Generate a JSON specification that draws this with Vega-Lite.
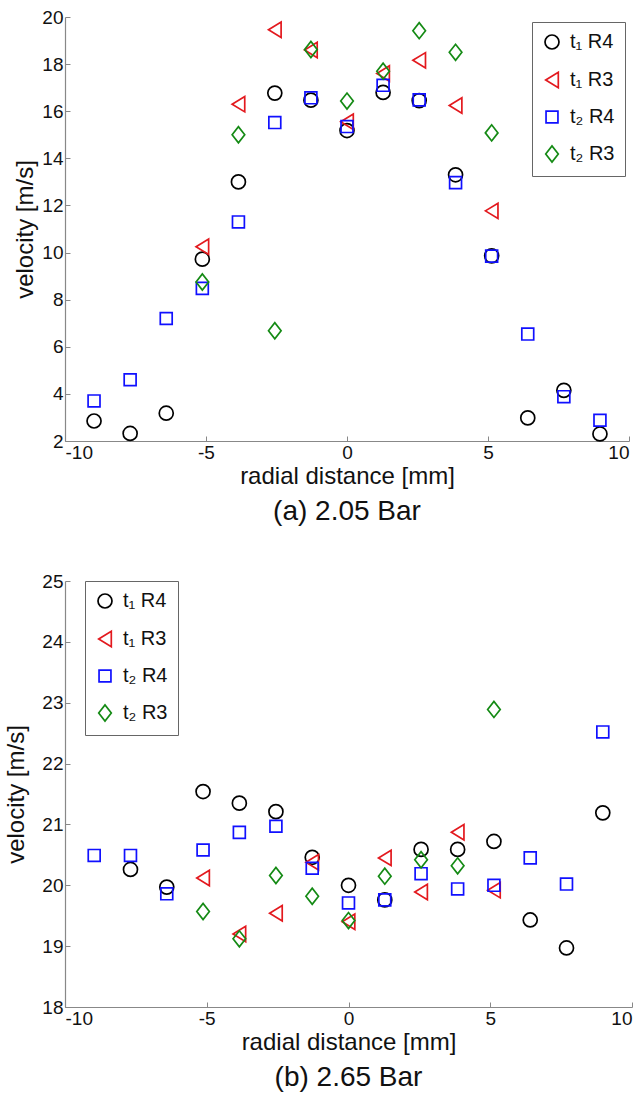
{
  "$schema": "https://vega.github.io/schema/vega-lite/v6.json",
  "padding": {"left": 4, "top": 8, "right": 5, "bottom": 0},
  "background": "white",
  "spacing": 46,
  "align": "none",
  "config": {
    "font": "Liberation Sans",
    "view": {"stroke": null},
    "axis": {
      "labelFontSize": 19,
      "titleFontSize": 24,
      "titleFontWeight": "normal",
      "labelColor": "#111",
      "titleColor": "#111",
      "domainColor": "#888",
      "tickColor": "#888",
      "domainWidth": 1.2,
      "tickSize": -5,
      "grid": false,
      "labelPadding": 7,
      "labelExpr": "replace(datum.label, '−', '-')"
    },
    "legend": {
      "title": null,
      "orient": "none",
      "strokeColor": "#666",
      "fillColor": "white",
      "padding": 10,
      "rowPadding": 15,
      "labelFontSize": 20,
      "labelColor": "#111",
      "symbolSize": 196,
      "symbolStrokeWidth": 1.7,
      "labelOffset": 8
    },
    "title": {"fontSize": 28, "fontWeight": "normal", "color": "#111", "orient": "bottom", "anchor": "middle"}
  },
  "datasets": {
    "a": [
      {"series": "t₁ R4", "x": -8.97, "v": 2.85},
      {"series": "t₁ R4", "x": -7.69, "v": 2.32},
      {"series": "t₁ R4", "x": -6.41, "v": 3.18},
      {"series": "t₁ R4", "x": -5.13, "v": 9.72},
      {"series": "t₁ R4", "x": -3.85, "v": 13.0},
      {"series": "t₁ R4", "x": -2.56, "v": 16.77},
      {"series": "t₁ R4", "x": -1.28, "v": 16.47},
      {"series": "t₁ R4", "x": 0, "v": 15.18},
      {"series": "t₁ R4", "x": 1.28, "v": 16.8},
      {"series": "t₁ R4", "x": 2.56, "v": 16.45},
      {"series": "t₁ R4", "x": 3.85, "v": 13.3},
      {"series": "t₁ R4", "x": 5.13, "v": 9.86},
      {"series": "t₁ R4", "x": 6.41, "v": 2.98},
      {"series": "t₁ R4", "x": 7.69, "v": 4.15},
      {"series": "t₁ R4", "x": 8.97, "v": 2.3},
      {"series": "t₁ R3", "x": -5.13, "v": 10.25},
      {"series": "t₁ R3", "x": -3.85, "v": 16.3},
      {"series": "t₁ R3", "x": -2.56, "v": 19.46},
      {"series": "t₁ R3", "x": -1.28, "v": 18.6},
      {"series": "t₁ R3", "x": 0, "v": 15.55},
      {"series": "t₁ R3", "x": 1.28, "v": 17.6},
      {"series": "t₁ R3", "x": 2.56, "v": 18.16},
      {"series": "t₁ R3", "x": 3.85, "v": 16.24},
      {"series": "t₁ R3", "x": 5.13, "v": 11.77},
      {"series": "t₂ R4", "x": -8.97, "v": 3.7},
      {"series": "t₂ R4", "x": -7.69, "v": 4.6},
      {"series": "t₂ R4", "x": -6.41, "v": 7.2},
      {"series": "t₂ R4", "x": -5.13, "v": 8.48},
      {"series": "t₂ R4", "x": -3.85, "v": 11.3},
      {"series": "t₂ R4", "x": -2.56, "v": 15.52},
      {"series": "t₂ R4", "x": -1.28, "v": 16.57},
      {"series": "t₂ R4", "x": 0, "v": 15.35},
      {"series": "t₂ R4", "x": 1.28, "v": 17.1},
      {"series": "t₂ R4", "x": 2.56, "v": 16.48},
      {"series": "t₂ R4", "x": 3.85, "v": 12.97},
      {"series": "t₂ R4", "x": 5.13, "v": 9.85},
      {"series": "t₂ R4", "x": 6.41, "v": 6.54},
      {"series": "t₂ R4", "x": 7.69, "v": 3.88},
      {"series": "t₂ R4", "x": 8.97, "v": 2.88},
      {"series": "t₂ R3", "x": -5.13, "v": 8.75},
      {"series": "t₂ R3", "x": -3.85, "v": 15.0},
      {"series": "t₂ R3", "x": -2.56, "v": 6.68},
      {"series": "t₂ R3", "x": -1.28, "v": 18.62},
      {"series": "t₂ R3", "x": 0, "v": 16.43},
      {"series": "t₂ R3", "x": 1.28, "v": 17.7},
      {"series": "t₂ R3", "x": 2.56, "v": 19.42},
      {"series": "t₂ R3", "x": 3.85, "v": 18.5},
      {"series": "t₂ R3", "x": 5.13, "v": 15.08}
    ],
    "b": [
      {"series": "t₁ R4", "x": -7.69, "v": 20.26},
      {"series": "t₁ R4", "x": -6.41, "v": 19.97},
      {"series": "t₁ R4", "x": -5.13, "v": 21.54},
      {"series": "t₁ R4", "x": -3.85, "v": 21.35},
      {"series": "t₁ R4", "x": -2.56, "v": 21.21},
      {"series": "t₁ R4", "x": -1.28, "v": 20.46},
      {"series": "t₁ R4", "x": 0, "v": 20.0},
      {"series": "t₁ R4", "x": 1.28, "v": 19.76},
      {"series": "t₁ R4", "x": 2.56, "v": 20.59},
      {"series": "t₁ R4", "x": 3.85, "v": 20.59},
      {"series": "t₁ R4", "x": 5.13, "v": 20.72},
      {"series": "t₁ R4", "x": 6.41, "v": 19.43},
      {"series": "t₁ R4", "x": 7.69, "v": 18.97},
      {"series": "t₁ R4", "x": 8.97, "v": 21.19},
      {"series": "t₁ R3", "x": -5.13, "v": 20.12},
      {"series": "t₁ R3", "x": -3.85, "v": 19.2},
      {"series": "t₁ R3", "x": -2.56, "v": 19.54},
      {"series": "t₁ R3", "x": -1.28, "v": 20.38},
      {"series": "t₁ R3", "x": 0, "v": 19.4},
      {"series": "t₁ R3", "x": 1.28, "v": 20.45},
      {"series": "t₁ R3", "x": 2.56, "v": 19.89},
      {"series": "t₁ R3", "x": 3.85, "v": 20.87},
      {"series": "t₁ R3", "x": 5.13, "v": 19.92},
      {"series": "t₂ R4", "x": -8.97, "v": 20.49},
      {"series": "t₂ R4", "x": -7.69, "v": 20.49},
      {"series": "t₂ R4", "x": -6.41, "v": 19.86},
      {"series": "t₂ R4", "x": -5.13, "v": 20.58},
      {"series": "t₂ R4", "x": -3.85, "v": 20.87},
      {"series": "t₂ R4", "x": -2.56, "v": 20.97},
      {"series": "t₂ R4", "x": -1.28, "v": 20.28},
      {"series": "t₂ R4", "x": 0, "v": 19.71},
      {"series": "t₂ R4", "x": 1.28, "v": 19.76},
      {"series": "t₂ R4", "x": 2.56, "v": 20.19},
      {"series": "t₂ R4", "x": 3.85, "v": 19.94},
      {"series": "t₂ R4", "x": 5.13, "v": 20.0},
      {"series": "t₂ R4", "x": 6.41, "v": 20.45},
      {"series": "t₂ R4", "x": 7.69, "v": 20.02},
      {"series": "t₂ R4", "x": 8.97, "v": 22.52},
      {"series": "t₂ R3", "x": -5.13, "v": 19.57},
      {"series": "t₂ R3", "x": -3.85, "v": 19.12},
      {"series": "t₂ R3", "x": -2.56, "v": 20.16},
      {"series": "t₂ R3", "x": -1.28, "v": 19.82},
      {"series": "t₂ R3", "x": 0, "v": 19.42},
      {"series": "t₂ R3", "x": 1.28, "v": 20.15},
      {"series": "t₂ R3", "x": 2.56, "v": 20.42},
      {"series": "t₂ R3", "x": 3.85, "v": 20.32},
      {"series": "t₂ R3", "x": 5.13, "v": 22.89}
    ]
  },
  "vconcat": [
    {
      "width": 564,
      "height": 424,
      "data": {"name": "a"},
      "title": {"text": "(a) 2.05 Bar", "offset": 10},
      "mark": {"type": "point", "filled": false, "strokeWidth": 1.7, "size": 196, "opacity": 1},
      "encoding": {
        "x": {"field": "x", "type": "quantitative", "scale": {"domain": [-10, 10], "nice": false, "zero": false},
              "axis": {"values": [-10, -5, 0, 5, 10], "title": "radial distance [mm]", "titlePadding": 2}},
        "y": {"field": "v", "type": "quantitative", "scale": {"domain": [2, 20], "nice": false, "zero": false},
              "axis": {"values": [2, 4, 6, 8, 10, 12, 14, 16, 18, 20], "title": "velocity [m/s]", "titlePadding": 4}},
        "color": {"field": "series", "type": "nominal",
                  "scale": {"domain": ["t₁ R4", "t₁ R3", "t₂ R4", "t₂ R3"], "range": ["#000000", "#e3191e", "#1010ff", "#148a14"]},
                  "legend": {"legendX": 467, "legendY": 5}},
        "shape": {"field": "series", "type": "nominal",
                  "scale": {"domain": ["t₁ R4", "t₁ R3", "t₂ R4", "t₂ R3"], "range": ["circle", "M-0.9,0L0.9,-1.1L0.9,1.1Z", "M-0.85,-0.85L0.85,-0.85L0.85,0.85L-0.85,0.85Z", "M-0.9,0L0,-1.15L0.9,0L0,1.15Z"]},
                  "legend": {"legendX": 467, "legendY": 5}}
      }
    },
    {
      "width": 567,
      "height": 426,
      "data": {"name": "b"},
      "title": {"text": "(b) 2.65 Bar", "offset": 10},
      "mark": {"type": "point", "filled": false, "strokeWidth": 1.7, "size": 196, "opacity": 1},
      "encoding": {
        "x": {"field": "x", "type": "quantitative", "scale": {"domain": [-10, 10], "nice": false, "zero": false},
              "axis": {"values": [-10, -5, 0, 5, 10], "title": "radial distance [mm]", "titlePadding": 2}},
        "y": {"field": "v", "type": "quantitative", "scale": {"domain": [18, 25], "nice": false, "zero": false},
              "axis": {"values": [18, 19, 20, 21, 22, 23, 24, 25], "title": "velocity [m/s]", "titlePadding": 4, "minExtent": 33}},
        "color": {"field": "series", "type": "nominal",
                  "scale": {"domain": ["t₁ R4", "t₁ R3", "t₂ R4", "t₂ R3"], "range": ["#000000", "#e3191e", "#1010ff", "#148a14"]},
                  "legend": {"legendX": 20, "legendY": 0}},
        "shape": {"field": "series", "type": "nominal",
                  "scale": {"domain": ["t₁ R4", "t₁ R3", "t₂ R4", "t₂ R3"], "range": ["circle", "M-0.9,0L0.9,-1.1L0.9,1.1Z", "M-0.85,-0.85L0.85,-0.85L0.85,0.85L-0.85,0.85Z", "M-0.9,0L0,-1.15L0.9,0L0,1.15Z"]},
                  "legend": {"legendX": 20, "legendY": 0}}
      }
    }
  ],
  "resolve": {"scale": {"color": "independent", "shape": "independent"}, "legend": {"color": "independent", "shape": "independent"}}
}
